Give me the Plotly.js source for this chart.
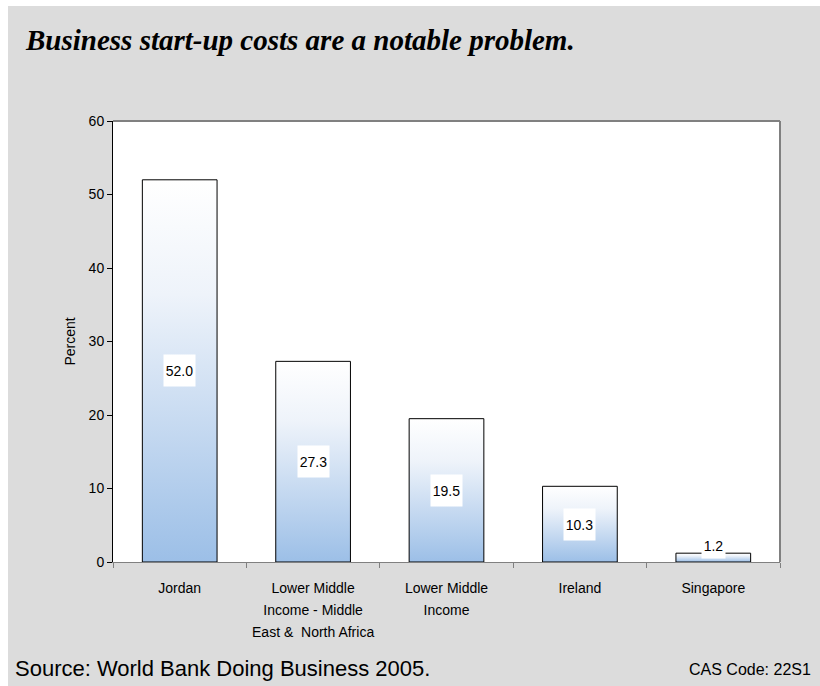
<!DOCTYPE html>
<html>
<head>
<meta charset="utf-8">
<script src="https://cdn.plot.ly/plotly-3.0.1.min.js"></script>
<style>
  html, body { margin: 0; padding: 0; background: #ffffff; width: 820px; height: 686px; overflow: hidden; }
  #chart { position: absolute; left: 8px; top: 6px; width: 812px; height: 680px; }
</style>
</head>
<body>
<div id="chart"></div>
<script>
// ---- data ----
const categories = [
  "Jordan",
  "Lower Middle<br>Income - Middle<br>East &  North Africa",
  "Lower Middle<br>Income",
  "Ireland",
  "Singapore"
];
const values = [52.0, 27.3, 19.5, 10.3, 1.2];
const valueLabels = ["52.0", "27.3", "19.5", "10.3", "1.2"];
const yTicks = [0, 10, 20, 30, 40, 50, 60];
const titleText = "Business start-up costs are a notable problem.";
const sourceText = "Source: World Bank Doing Business 2005.";
const codeText = "CAS Code: 22S1";
const yTitle = "Percent";

// ---- geometry helpers (pixels inside the div) ----
const W = 812, H = 680;
const M = { l: 105, r: 40, t: 115, b: 124 };
const PW = W - M.l - M.r, PH = H - M.t - M.b;
const px = x => (x - M.l) / PW;
const py = y => (M.t + PH - y) / PH;

const trace = {
  type: 'bar',
  x: categories,
  y: values,
  marker: { color: '#9dc0e8', line: { color: '#000000', width: 1 } },
  hoverinfo: 'none'
};

const annotations = values.map((v, i) => ({
  x: categories[i], y: v < 5 ? v + 1 : v / 2,
  xref: 'x', yref: 'y',
  text: valueLabels[i], showarrow: false,
  bgcolor: '#ffffff',
  width: v < 5 ? 23 : 31, height: v < 5 ? 24 : 31, borderpad: 0,
  font: { family: 'Liberation Sans, Arial, sans-serif', size: 14, color: '#000' }
}));

annotations.push({
  xref: 'paper', yref: 'paper', x: px(15), y: py(34), xanchor: 'left', yanchor: 'middle',
  text: '<b><i>' + titleText + '</i></b>', showarrow: false,
  font: { family: 'Liberation Serif, Times New Roman, serif', size: 29, color: '#000' }
});
annotations.push({
  xref: 'paper', yref: 'paper', x: px(61), y: 0.5, xanchor: 'center', yanchor: 'middle',
  text: yTitle, textangle: -90, showarrow: false,
  font: { family: 'Liberation Sans, Arial, sans-serif', size: 14, color: '#000' }
});
annotations.push({
  xref: 'paper', yref: 'paper', x: px(5), y: py(662), xanchor: 'left', yanchor: 'middle',
  text: sourceText, showarrow: false,
  font: { family: 'Liberation Sans, Arial, sans-serif', size: 22, color: '#000' }
});
annotations.push({
  xref: 'paper', yref: 'paper', x: px(805), y: py(663), xanchor: 'right', yanchor: 'middle',
  text: codeText, showarrow: false,
  font: { family: 'Liberation Sans, Arial, sans-serif', size: 16, color: '#000' }
});

const layout = {
  width: W, height: H,
  margin: M,
  paper_bgcolor: '#dcdcdc',
  plot_bgcolor: '#ffffff',
  showlegend: false,
  bargap: 0.44,
  font: { family: 'Liberation Sans, Arial, sans-serif', size: 14, color: '#000' },
  xaxis: {
    type: 'category',
    showline: true, linecolor: '#808080', linewidth: 1,
    ticks: 'outside', tickson: 'boundaries', ticklen: 5, tickcolor: '#808080',
    ticklabelstandoff: 13,
    showgrid: false, zeroline: false,
    tickfont: { size: 14 },
    fixedrange: true
  },
  yaxis: {
    range: [0, 60], tickvals: yTicks, ticktext: yTicks.map(String),
    showline: true, linecolor: '#000000', linewidth: 1,
    ticks: 'outside', ticklen: 5, tickcolor: '#000000',
    showgrid: false, zeroline: false,
    tickfont: { size: 14 },
    fixedrange: true
  },
  shapes: [
    { type: 'line', xref: 'paper', yref: 'paper', x0: 0, x1: 1, y0: 1, y1: 1, line: { color: '#808080', width: 2 } },
    { type: 'line', xref: 'paper', yref: 'paper', x0: 1, x1: 1, y0: 0, y1: 1, line: { color: '#808080', width: 2 } }
  ],
  annotations: annotations
};

function postProcess() {
  const gd = document.getElementById('chart');
  const svg = gd.querySelector('svg.main-svg');
  if (!svg) return;
  let defs = svg.querySelector('defs');
  if (!defs) { defs = document.createElementNS('http://www.w3.org/2000/svg', 'defs'); svg.insertBefore(defs, svg.firstChild); }
  if (!svg.querySelector('#barGrad')) {
    const g = document.createElementNS('http://www.w3.org/2000/svg', 'linearGradient');
    g.setAttribute('id', 'barGrad');
    g.setAttribute('x1', '0'); g.setAttribute('y1', '0'); g.setAttribute('x2', '0'); g.setAttribute('y2', '1');
    [['0', '#ffffff'], ['0.3', '#eef3fa'], ['1', '#9cbfe7']].forEach(([o, c]) => {
      const s = document.createElementNS('http://www.w3.org/2000/svg', 'stop');
      s.setAttribute('offset', o); s.setAttribute('stop-color', c);
      g.appendChild(s);
    });
    defs.appendChild(g);
  }
  gd.querySelectorAll('.bars .point path').forEach(p => { p.style.fill = 'url(#barGrad)'; });
  // wider line spacing for multi-line category labels
  gd.querySelectorAll('.xtick text').forEach(text => {
    const lines = Array.from(text.querySelectorAll('tspan.line'));
    if (lines.length < 2) return;
    let y0;
    try { y0 = lines[0].getStartPositionOfChar(0).y; } catch (e) { return; }
    lines.forEach((t, k) => {
      t.setAttribute('dy', '0');
      t.setAttribute('y', String(y0 + k * 22));
    });
  });
}

Plotly.newPlot('chart', [trace], layout, { staticPlot: true, displayModeBar: false }).then(postProcess);
</script>
</body>
</html>
